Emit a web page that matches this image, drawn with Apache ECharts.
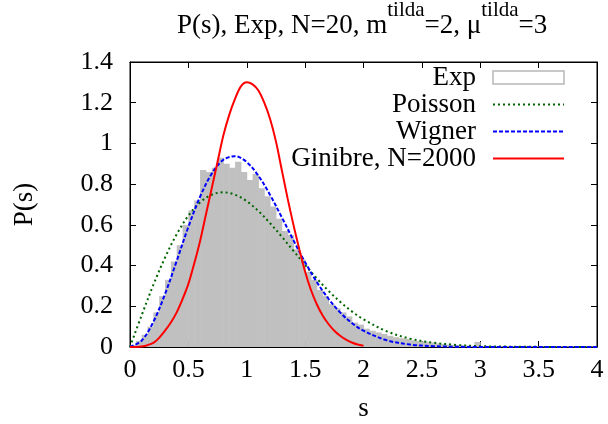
<!DOCTYPE html>
<html>
<head>
<meta charset="utf-8">
<script src="https://cdn.jsdelivr.net/npm/echarts@6/dist/echarts.min.js"></script>
<style>
html,body{margin:0;padding:0;background:#fff;}
#chart{width:608px;height:424px;}
</style>
</head>
<body>
<div id="chart"></div>
<script>
// ---- data ----
const xTicks = [0, 0.5, 1, 1.5, 2, 2.5, 3, 3.5, 4];
const yTicks = [0, 0.2, 0.4, 0.6, 0.8, 1, 1.2, 1.4];

// histogram "Exp": bin width and bar heights (bins from s=0)
const binWidth = 0.05;
const histValues = [
  0.01, 0.03, 0.06, 0.10, 0.17, 0.25, 0.33, 0.42, 0.50, 0.60,
  0.67, 0.72, 0.87, 0.86, 0.88, 0.93, 0.90, 0.88, 0.91, 0.86,
  0.82, 0.85, 0.78, 0.74, 0.69, 0.63, 0.57, 0.55, 0.48, 0.43,
  0.37, 0.33, 0.28, 0.25, 0.21, 0.19, 0.17, 0.15, 0.12, 0.11,
  0.09, 0.08, 0.072, 0.064, 0.055, 0.048, 0.043, 0.040, 0.033, 0.030,
  0.027, 0.022, 0.018, 0.015, 0.012, 0.010, 0.008, 0.007, 0.006, 0.025,
  0.005, 0.004, 0.004, 0.003, 0.003, 0.003, 0.002, 0.002, 0.002, 0.002,
  0.001, 0.001, 0.001, 0.001, 0.001, 0.001, 0.001, 0.001, 0.001, 0.001
];

// smooth curves sampled at these s values
const curveS = [0, 0.1, 0.2, 0.3, 0.4, 0.5, 0.6, 0.7, 0.8, 0.9, 1.0,
  1.1, 1.2, 1.3, 1.4, 1.5, 1.6, 1.7, 1.8, 1.9, 2.0,
  2.2, 2.4, 2.6, 2.8, 3.0, 3.2, 3.4, 3.6, 3.8, 4.0];
const poissonValues = [0, 0.156, 0.305, 0.439, 0.554, 0.645, 0.710, 0.748, 0.760, 0.748, 0.716,
  0.668, 0.608, 0.542, 0.472, 0.403, 0.337, 0.276, 0.222, 0.175, 0.136,
  0.077, 0.041, 0.021, 0.010, 0.004, 0.002, 0.001, 0.0003, 0.0001, 0];
const wignerValues = [0, 0.032, 0.123, 0.260, 0.423, 0.590, 0.738, 0.851, 0.920, 0.937, 0.908,
  0.841, 0.747, 0.637, 0.524, 0.416, 0.319, 0.237, 0.170, 0.118, 0.080,
  0.033, 0.012, 0.004, 0.001, 0.0003, 0, 0, 0, 0, 0];
const ginibreS = [0, 0.05, 0.1, 0.15, 0.2, 0.25, 0.3, 0.35, 0.4, 0.45, 0.5,
  0.55, 0.6, 0.65, 0.7, 0.75, 0.8, 0.85, 0.9, 0.95, 1.0,
  1.05, 1.1, 1.15, 1.2, 1.25, 1.3, 1.35, 1.4, 1.45, 1.5,
  1.55, 1.6, 1.65, 1.7, 1.75, 1.8, 1.85, 1.9, 1.95, 2.0];
const ginibreValues = [0, 0.0005, 0.003, 0.009, 0.02, 0.045, 0.08, 0.12, 0.17, 0.235, 0.31,
  0.41, 0.52, 0.65, 0.78, 0.91, 1.04, 1.14, 1.22, 1.28, 1.30,
  1.29, 1.26, 1.20, 1.12, 1.01, 0.87, 0.73, 0.60, 0.48, 0.37,
  0.28, 0.21, 0.155, 0.113, 0.08, 0.055, 0.036, 0.022, 0.012, 0.006];

const seriesNames = ['Exp', 'Poisson', 'Wigner', 'Ginibre, N=2000'];

// ---- build chart ----
const FONT = '"Liberation Serif", "DejaVu Serif", serif';
const FS = 27;
const pairs = (xs, ys) => xs.map((x, i) => [x, ys[i]]);
const histData = histValues.map((v, i) => [i * binWidth, (i + 1) * binWidth, v]);

const chart = echarts.init(document.getElementById('chart'), null, {renderer: 'canvas'});

const axisCommon = {
  type: 'value',
  axisLine: {show: true, onZero: false, lineStyle: {color: '#000', width: 1}},
  axisTick: {show: true, inside: true, length: 6, lineStyle: {color: '#000', width: 1}},
  splitLine: {show: false}
};

chart.setOption({
  animation: false,
  backgroundColor: '#fff',
  title: {
    text: '{n|P(s), Exp, N=20, m}{s|tilda}{n|=2, μ}{s|tilda}{n|=3}',
    left: 177,
    top: 0,
    padding: 0,
    textStyle: {
      fontWeight: 'normal',
      rich: {
        n: {fontFamily: FONT, fontSize: FS, fontWeight: 'normal', color: '#000', lineHeight: 39, verticalAlign: 'bottom'},
        s: {fontFamily: FONT, fontSize: 21, fontWeight: 'normal', color: '#000', lineHeight: 22, verticalAlign: 'top'}
      }
    }
  },
  grid: {left: 130, right: 11, top: 62, bottom: 77, show: true, borderColor: '#000', borderWidth: 1,
    containLabel: false, outerBoundsMode: 'none'},
  legend: {
    orient: 'vertical',
    right: 43,
    top: 64,
    padding: 0,
    align: 'right',
    itemWidth: 71,
    itemHeight: 13,
    itemGap: 0,
    textStyle: {fontFamily: FONT, fontSize: FS, color: '#000', lineHeight: 27, padding: [0, 12, 0, 0]},
    data: [
      {name: seriesNames[0], icon: 'rect', itemStyle: {color: '#ffffff', borderColor: '#b8b8b8', borderWidth: 1.5, opacity: 1}},
      {name: seriesNames[1], itemStyle: {opacity: 0}},
      {name: seriesNames[2], itemStyle: {opacity: 0}},
      {name: seriesNames[3], itemStyle: {opacity: 0}}
    ]
  },
  xAxis: [
    Object.assign({}, axisCommon, {
      min: 0, max: 4, interval: 0.5, position: 'bottom',
      name: 's', nameLocation: 'middle', nameGap: 48,
      nameTextStyle: {fontFamily: FONT, fontSize: FS, color: '#000'},
      axisLabel: {fontFamily: FONT, fontSize: 26, color: '#000', margin: 10,
        formatter: v => String(v)}
    }),
    Object.assign({}, axisCommon, {
      min: 0, max: 4, interval: 0.5, position: 'top', axisLabel: {show: false}
    })
  ],
  yAxis: [
    Object.assign({}, axisCommon, {
      min: 0, max: 1.4, interval: 0.2, position: 'left',
      name: 'P(s)', nameLocation: 'middle', nameGap: 92, nameRotate: 90,
      nameTextStyle: {fontFamily: FONT, fontSize: FS, color: '#000'},
      axisLabel: {fontFamily: FONT, fontSize: 26, color: '#000', margin: 17,
        formatter: v => String(Math.round(v * 10) / 10)}
    }),
    Object.assign({}, axisCommon, {
      min: 0, max: 1.4, interval: 0.2, position: 'right', axisLabel: {show: false}
    })
  ],
  series: [
    {
      name: seriesNames[0],
      type: 'custom',
      xAxisIndex: 0, yAxisIndex: 0,
      itemStyle: {color: '#ffffff', borderColor: '#b8b8b8', borderWidth: 1.5},
      data: histData,
      encode: {x: [0, 1], y: 2},
      renderItem: function (params, api) {
        const p0 = api.coord([api.value(0), api.value(2)]);
        const p1 = api.coord([api.value(1), 0]);
        return {
          type: 'rect',
          shape: {x: p0[0], y: p0[1], width: p1[0] - p0[0] + 0.5, height: p1[1] - p0[1]},
          style: {fill: '#c0c0c0', stroke: null, lineWidth: 0}
        };
      },
      z: 1
    },
    {
      name: seriesNames[1], type: 'line', smooth: 0.35, showSymbol: false, symbol: 'none',
      data: pairs(curveS, poissonValues),
      itemStyle: {color: '#006400'},
      lineStyle: {color: '#006400', width: 2, type: [2, 3]},
      z: 3
    },
    {
      name: seriesNames[2], type: 'line', smooth: 0.35, showSymbol: false, symbol: 'none',
      data: pairs(curveS, wignerValues),
      itemStyle: {color: '#0000ff'},
      lineStyle: {color: '#0000ff', width: 2, type: [4, 2]},
      z: 4
    },
    {
      name: seriesNames[3], type: 'line', smooth: 0.3, showSymbol: false, symbol: 'none',
      data: pairs(ginibreS, ginibreValues),
      itemStyle: {color: '#ff0000'},
      lineStyle: {color: '#ff0000', width: 2},
      z: 5
    }
  ]
});
</script>
</body>
</html>
